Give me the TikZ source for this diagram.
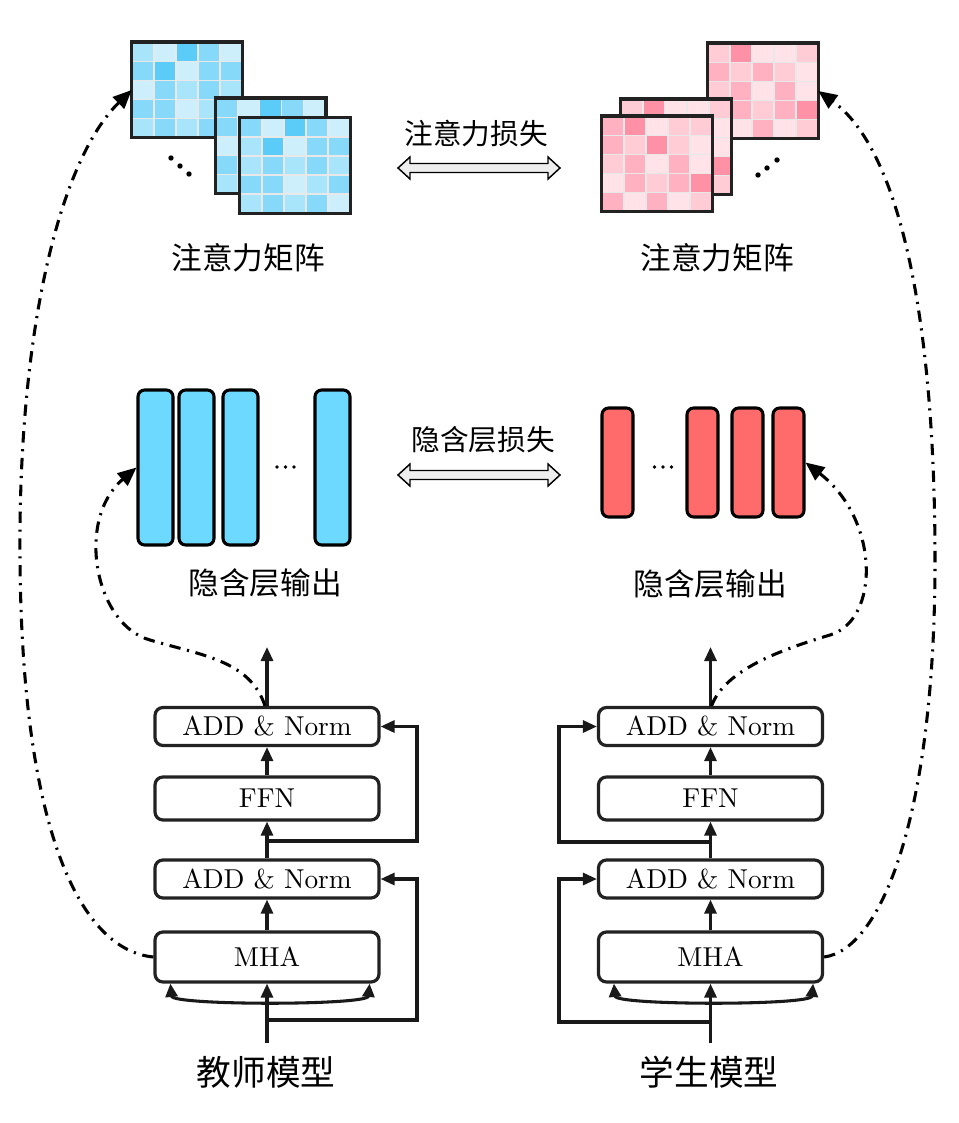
\documentclass[tikz,border=0pt]{standalone}
\usepackage{fontspec}
\newfontfamily\cjk{Noto Sans CJK SC}
\newfontfamily\boxfont{lmroman10-regular}[Extension=.otf]
\usetikzlibrary{arrows.meta,calc}
\definecolor{b1}{HTML}{CDEFFC}
\definecolor{b2}{HTML}{A8E4FA}
\definecolor{b3}{HTML}{86D9F8}
\definecolor{b4}{HTML}{5BCCF7}
\definecolor{p1}{HTML}{FFE3E8}
\definecolor{p2}{HTML}{FFCBD5}
\definecolor{p3}{HTML}{FFB0C1}
\definecolor{p4}{HTML}{FF91A7}
\definecolor{cellgrid}{HTML}{E8E8E8}
\definecolor{barblue}{HTML}{6ED9FF}
\definecolor{barred}{HTML}{FF6B6B}
\definecolor{edge}{HTML}{222222}
\definecolor{lossfill}{HTML}{EEEEEE}
\def\px{0.75pt}
\tikzset{
  blk/.style={draw=edge, line width=2.4pt, rounded corners=6pt, fill=white,
    minimum width=224*\px, inner sep=0pt, font=\boxfont\fontsize{20.5}{21}\selectfont},
  arr/.style={draw=black!90, line width=2.3pt, -{Triangle[length=10.5pt,width=9pt]}},
  bow/.style={draw=black!90, line width=2.3pt, {Triangle[length=10pt,width=9pt]}-{Triangle[length=10pt,width=9pt]}},
  dashdot/.style={draw=black, line width=2.3pt, dash pattern=on 8.5pt off 5pt on 1.6pt off 5pt,
    -{Triangle[length=14pt,width=12pt]}},
  tbar/.style={draw=black, line width=2.3pt, rounded corners=5pt, fill=barblue,
    minimum width=35*\px, minimum height=155*\px, inner sep=0pt},
  sbar/.style={draw=black, line width=2.3pt, rounded corners=5pt, fill=barred,
    minimum width=31*\px, minimum height=109*\px, inner sep=0pt},
  matnode/.style={minimum width=110*\px, minimum height=95*\px, inner sep=0pt},
  lbl/.style={font=\cjk\fontsize{23}{23}\selectfont, inner sep=0pt},
  losslbl/.style={font=\cjk\fontsize{21.5}{22}\selectfont, inner sep=0pt},
  modellbl/.style={font=\cjk\fontsize{26}{26}\selectfont, inner sep=0pt},
  lossar/.style={draw=black, line width=1.1pt, fill=lossfill, line join=miter},
}
% name, cx, cy, colour prefix, 25 levels
\newcommand\attmat[5]{%
  \node[matnode] (#1) at (#2,#3) {};
  \foreach \v [count=\i from 0] in {#5} {
    \pgfmathtruncatemacro\rr{floor(\i/5)}
    \pgfmathtruncatemacro\cc{\i-5*\rr}
    \edef\cn{#4\v}
    \filldraw[fill=\cn, draw=cellgrid, line width=1.3pt]
      ({#2-55+22*\cc},{#3-47.5+19*\rr}) rectangle ++(22,19);
  }
  \draw[draw=edge, line width=2.6pt] (#1.north west) rectangle (#1.south east);
}
\newcommand\lossarrow[3]{%
  \draw[lossar] (#1,#3) -- (#1+12,#3-11) -- (#1+12,#3-4.5) -- (#2-12,#3-4.5)
    -- (#2-12,#3-11) -- (#2,#3) -- (#2-12,#3+11) -- (#2-12,#3+4.5)
    -- (#1+12,#3+4.5) -- (#1+12,#3+11) -- cycle;
}
\begin{document}
\begin{tikzpicture}[x=0.75pt,y=-0.75pt]
\fill[white] (0,0) rectangle (958,1123);
\useasboundingbox (0,0) rectangle (958,1123);

% ---------- attention matrices ----------
\attmat{tm1}{187}{90}{b}{2,1,4,3,1, 3,4,1,3,3, 1,3,2,3,2, 3,3,1,2,2, 2,3,2,3,2}
\attmat{tm2}{270.5}{146}{b}{3,1,4,3,1, 3,2,1,3,2, 1,3,2,3,2, 3,2,1,2,3, 2,3,2,3,2}
\attmat{tm3}{295}{165.5}{b}{3,1,4,3,1, 2,4,1,3,3, 2,3,2,3,2, 3,3,1,2,3, 2,3,2,3,1}
\attmat{sm1}{763}{91}{p}{2,4,1,1,2, 3,2,3,2,1, 2,3,1,3,1, 2,3,2,3,4, 1,1,3,1,2}
\attmat{sm2}{676}{147}{p}{2,4,1,1,2, 3,2,3,2,1, 2,3,1,3,1, 2,3,2,3,4, 1,1,3,1,2}
\attmat{sm3}{657}{164}{p}{3,4,1,2,2, 3,2,4,2,1, 2,3,1,3,1, 1,3,2,3,4, 3,1,3,1,2}
\foreach \x/\y in {171/158,180/166,189/174} \fill (\x,\y) circle (2.7);
\foreach \x/\y in {758/175,767/168,777/160} \fill (\x,\y) circle (2.7);

\node[lbl] (tattlbl) at (248,258) {注意力矩阵};
\node[lbl] (sattlbl) at (717,258) {注意力矩阵};
\node[losslbl] (attloss) at (476,134) {注意力损失};
\lossarrow{398}{560}{168}

% ---------- hidden outputs ----------
\node[tbar] (tb1) at (155.5,467.5) {};
\node[tbar] (tb2) at (196.5,467.5) {};
\node[tbar] (tb3) at (240.5,467.5) {};
\node[tbar] (tb4) at (332.5,467.5) {};
\foreach \x in {277,285.5,294} \fill (\x,467) circle (1.9);
\node[sbar] (sb1) at (617.5,462.5) {};
\node[sbar] (sb2) at (702.5,462.5) {};
\node[sbar] (sb3) at (747.5,462.5) {};
\node[sbar] (sb4) at (788.5,462.5) {};
\foreach \x in {654.5,663,671.5} \fill (\x,467) circle (1.9);

\node[lbl] (thidlbl) at (265,583) {隐含层输出};
\node[lbl] (shidlbl) at (710,584) {隐含层输出};
\node[losslbl] (hidloss) at (483,440) {隐含层损失};
\lossarrow{398}{560}{475}

% ---------- teacher blocks ----------
\node[blk, minimum height=38*\px] (tadd2) at (267,726.5) {ADD \& Norm};
\node[blk, minimum height=43*\px] (tffn) at (267,798.5) {FFN};
\node[blk, minimum height=38*\px] (tadd1) at (267,879) {ADD \& Norm};
\node[blk, minimum height=50*\px] (tmha) at (267,957) {MHA};
\node[modellbl] (tname) at (266,1072) {教师模型};
\coordinate (tin) at (267,1043);
\coordinate (tsplit0) at (267,1020);
\coordinate (tc0) at (417,1020);
\coordinate (tsplit1) at (267,841);
\coordinate (tc1) at (417,841);
\coordinate (tout) at (267,647);

\draw[arr] (tin) -- (tmha.south);
\draw[bow] ($(tmha.south west)+(17,0)$) .. controls ($(tmha.south west)+(19,22)$) and ($(tmha.south east)+(-13,22)$) .. ($(tmha.south east)+(-11,0)$);
\draw[arr] (tsplit0) -- (tc0) |- (tadd1.east);
\draw[arr] (tmha.north) -- (tadd1.south);
\draw[arr] (tadd1.north) -- (tffn.south);
\draw[arr] (tsplit1) -- (tc1) |- (tadd2.east);
\draw[arr] (tffn.north) -- (tadd2.south);
\draw[arr] (tadd2.north) -- (tout);

% ---------- student blocks ----------
\node[blk, minimum height=38*\px] (sadd2) at (710.5,726.5) {ADD \& Norm};
\node[blk, minimum height=43*\px] (sffn) at (710.5,798.5) {FFN};
\node[blk, minimum height=38*\px] (sadd1) at (710.5,879) {ADD \& Norm};
\node[blk, minimum height=50*\px] (smha) at (710.5,957) {MHA};
\node[modellbl] (sname) at (709,1072) {学生模型};
\coordinate (sin) at (710.5,1043);
\coordinate (ssplit0) at (710.5,1022);
\coordinate (sc0) at (559,1022);
\coordinate (ssplit1) at (710.5,842);
\coordinate (sc1) at (559,842);
\coordinate (sout) at (710.5,647);

\draw[arr] (sin) -- (smha.south);
\draw[bow] ($(smha.south west)+(17,0)$) .. controls ($(smha.south west)+(19,22)$) and ($(smha.south east)+(-13,22)$) .. ($(smha.south east)+(-11,0)$);
\draw[arr] (ssplit0) -- (sc0) |- (sadd1.west);
\draw[arr] (smha.north) -- (sadd1.south);
\draw[arr] (sadd1.north) -- (sffn.south);
\draw[arr] (ssplit1) -- (sc1) |- (sadd2.west);
\draw[arr] (sffn.north) -- (sadd2.south);
\draw[arr] (sadd2.north) -- (sout);

% ---------- dash-dot connectors ----------
\draw[dashdot] (tmha.west) .. controls (80,950) and (22,830) .. (20,560)
  .. controls (18,330) and (60,160) .. (tm1.west);
\draw[dashdot] (smha.east) .. controls (880,950) and (935,820) .. (935,560)
  .. controls (935,320) and (900,150) .. (sm1.east);
\draw[dashdot] ([xshift=-2*\px]tadd2.north) .. controls (250,660) and (200,655) .. (150,640)
  .. controls (95,625) and (75,520) .. (tb1.west);
\draw[dashdot] ([xshift=1*\px]sadd2.north) .. controls (725,670) and (780,650) .. (830,635)
  .. controls (880,620) and (880,520) .. (sb4.east);
\end{tikzpicture}
\end{document}
